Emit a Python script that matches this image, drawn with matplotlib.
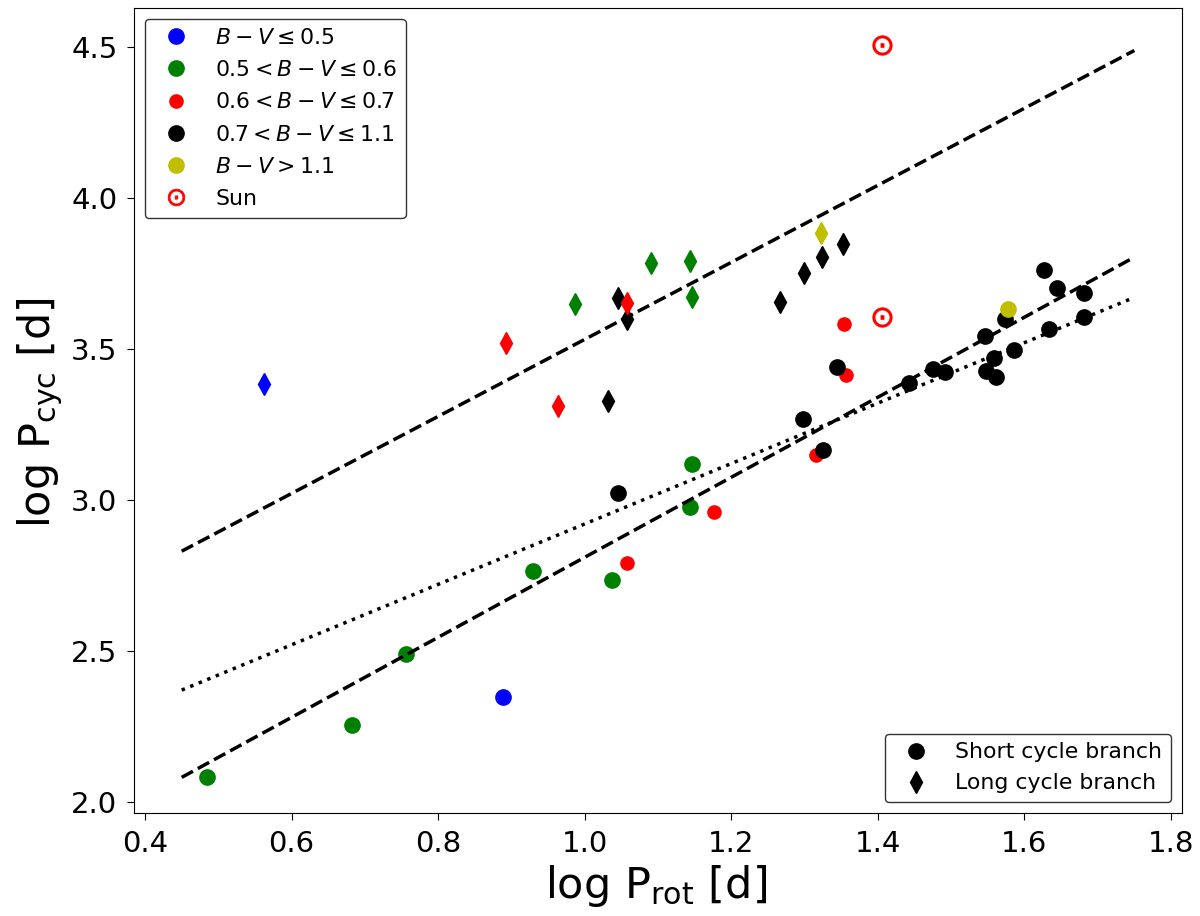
import numpy as np
import matplotlib
matplotlib.use("Agg")
import matplotlib.pyplot as plt
from matplotlib.lines import Line2D

# =========================
# Data: log P_rot vs log P_cyc
# =========================
# short cycle branch (circles)
short_blue_x   = [0.889]
short_blue_y   = [2.346]
short_green_x  = [0.484, 0.682, 0.756, 0.929, 1.037, 1.143, 1.146]
short_green_y  = [2.083, 2.254, 2.489, 2.765, 2.736, 2.975, 3.118]
short_red_x    = [1.057, 1.176, 1.316, 1.354, 1.356]
short_red_y    = [2.791, 2.959, 3.148, 3.581, 3.413]
short_black_x  = [1.046, 1.298, 1.325, 1.344, 1.443, 1.475, 1.491, 1.546, 1.548,
                  1.559, 1.561, 1.573, 1.586, 1.627, 1.633, 1.644, 1.681, 1.681]
short_black_y  = [3.023, 3.268, 3.165, 3.438, 3.385, 3.432, 3.424, 3.543, 3.426,
                  3.470, 3.407, 3.598, 3.496, 3.761, 3.565, 3.702, 3.683, 3.606]
short_yellow_x = [1.577]
short_yellow_y = [3.630]

# long cycle branch (diamonds)
long_blue_x   = [0.562]
long_blue_y   = [3.383]
long_green_x  = [0.987, 1.090, 1.1435, 1.147]
long_green_y  = [3.648, 3.783, 3.790, 3.672]
long_red_x    = [0.892, 0.964, 1.058]
long_red_y    = [3.520, 3.310, 3.650]
long_black_x  = [1.032, 1.046, 1.057, 1.267, 1.299, 1.324, 1.353]
long_black_y  = [3.328, 3.667, 3.598, 3.656, 3.752, 3.803, 3.846]
long_yellow_x = [1.322]
long_yellow_y = [3.884]

# Sun
sun_x = [1.405, 1.405]
sun_y = [3.604, 4.507]

# fits: y = a + b*x over this range
fit_x = [0.45, 1.75]
fit_long_ab   = (2.256, 1.275)
fit_short_ab  = (1.485, 1.3246)
fit_dotted_ab = (1.920, 1.000)

bv_labels = [r"$B-V \leq 0.5$",
             r"$0.5 < B-V \leq 0.6$",
             r"$0.6 < B-V \leq 0.7$",
             r"$0.7 < B-V \leq 1.1$",
             r"$B-V > 1.1$",
             "Sun"]

# =========================
# Figure
# =========================
fig = plt.figure(figsize=(12, 9.16), dpi=100)
ax = fig.add_axes([0.1117, 0.1124, 0.9850 - 0.1117, 0.9913 - 0.1124])

ms = 11
ms_red = 9.5
ms_sun = 14

# diamonds
ax.plot(long_blue_x, long_blue_y, 'd', color='b', ms=ms)
ax.plot(long_green_x, long_green_y, 'd', color='g', ms=ms)
ax.plot(long_black_x, long_black_y, 'd', color='k', ms=ms)
ax.plot(long_red_x, long_red_y, 'd', color='r', ms=ms)
ax.plot(long_yellow_x, long_yellow_y, 'd', color='y', ms=ms)

# circles
ax.plot(short_blue_x, short_blue_y, 'o', color='b', ms=ms)
ax.plot(short_green_x, short_green_y, 'o', color='g', ms=ms)
ax.plot(short_red_x, short_red_y, 'o', color='r', ms=ms_red)
ax.plot(short_black_x, short_black_y, 'o', color='k', ms=ms)
ax.plot(short_yellow_x, short_yellow_y, 'o', color='y', ms=ms)

# Sun
ax.plot(sun_x, sun_y, ls='none', marker=r'$\odot$', color='r', ms=ms_sun, mew=0.6)

# fit lines
fx = np.array(fit_x)
ax.plot(fx, fit_long_ab[0] + fit_long_ab[1] * fx, 'k--', lw=2.5, zorder=3)
ax.plot(fx, fit_short_ab[0] + fit_short_ab[1] * fx, 'k--', lw=2.5, zorder=3)
ax.plot(fx, fit_dotted_ab[0] + fit_dotted_ab[1] * fx, 'k:', lw=2.5, zorder=3)

ax.set_xlim(0.385, 1.815)
ax.set_ylim(1.963, 4.628)
ax.set_xticks([0.4, 0.6, 0.8, 1.0, 1.2, 1.4, 1.6, 1.8])
ax.set_yticks([2.0, 2.5, 3.0, 3.5, 4.0, 4.5])
ax.tick_params(labelsize=21, length=5, pad=7)

ax.set_xlabel(r"log $\mathrm{P_{rot}}$ [d] ", fontsize=31)
ax.set_ylabel(r"log $\mathrm{P_{cyc}}$ [d] ", fontsize=31)

# -------------------------
# Legends
# -------------------------
color_handles = [
    Line2D([], [], ls='none', marker='o', color='b', ms=ms),
    Line2D([], [], ls='none', marker='o', color='g', ms=ms),
    Line2D([], [], ls='none', marker='o', color='r', ms=ms_red),
    Line2D([], [], ls='none', marker='o', color='k', ms=ms),
    Line2D([], [], ls='none', marker='o', color='y', ms=ms),
    Line2D([], [], ls='none', marker=r'$\odot$', color='r', ms=12, mew=0.6),
]
leg1 = ax.legend(color_handles, bv_labels, loc='upper left', fontsize=15.8,
                 labelspacing=0.56, edgecolor='k')
ax.add_artist(leg1)

branch_handles = [
    Line2D([], [], ls='none', marker='o', color='k', ms=ms),
    Line2D([], [], ls='none', marker='d', color='k', ms=ms),
]
ax.legend(branch_handles, ["Short cycle branch", "Long cycle branch"],
          loc='lower right', fontsize=15.8, edgecolor='k')

fig.savefig("out.png", dpi=100)
